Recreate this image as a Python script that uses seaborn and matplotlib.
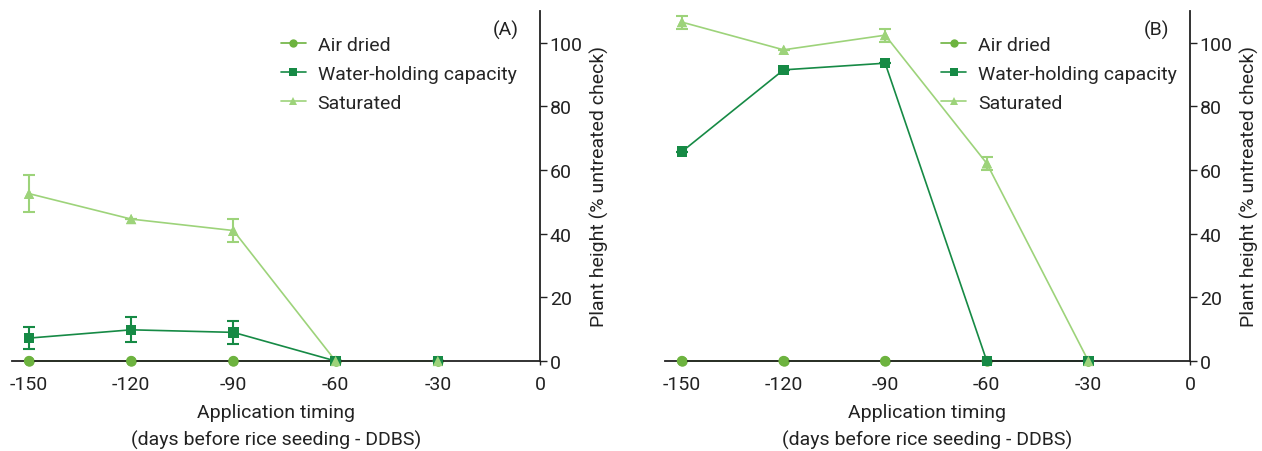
import numpy as np
import pandas as pd
import seaborn as sns
import matplotlib.pyplot as plt

sns.set_style("ticks")
plt.rcParams['font.family'] = ['Roboto', 'DejaVu Sans']

timing = [-150, -120, -90, -60, -30]
series = ["Air dried", "Water-holding capacity", "Saturated"]

# panel A
a_air = [0, 0, 0, 0, 0]
a_whc = [7.2, 9.8, 9.0, 0, 0]
a_whc_err = [3.5, 3.9, 3.7, 0, 0]
a_sat = [52.6, 44.6, 41.0, 0, 0]
a_sat_err = [5.9, 0, 3.6, 0, 0]

# panel B
b_air = [0, 0, 0, 0, 0]
b_whc = [65.8, 91.5, 93.6, 0, 0]
b_whc_err = [0, 0, 0, 0, 0]
b_sat = [106.5, 97.8, 102.4, 62.1, 0]
b_sat_err = [2.0, 0, 2.0, 2.0, 0]

colors = {"Air dried": "#6db33f", "Water-holding capacity": "#168a45", "Saturated": "#9dd37a"}
markers = {"Air dried": "o", "Water-holding capacity": "s", "Saturated": "^"}
ink = "#222222"

fig = plt.figure(figsize=(12.62, 4.52), dpi=100)
ax_a = fig.add_axes([12/1262, 1-362/452, (540-12)/1262, 350/452])
ax_b = fig.add_axes([665/1262, 1-362/452, (1190-665)/1262, 350/452])


def draw(ax, air, whc, whc_err, sat, sat_err, tag, leg_x):
    df = pd.DataFrame({
        "timing": timing * 3,
        "value": air + whc + sat,
        "series": [s for s in series for _ in timing],
    })
    errs = {"Water-holding capacity": whc_err, "Saturated": sat_err}
    vals = {"Water-holding capacity": whc, "Saturated": sat}
    for s in ["Saturated", "Water-holding capacity"]:
        ax.errorbar(timing, vals[s], yerr=errs[s], fmt="none", ecolor=colors[s],
                    elinewidth=1.5, capsize=4.5, capthick=1.5, zorder=1.5)
    sns.lineplot(data=df, x="timing", y="value", hue="series", style="series",
                 hue_order=series, style_order=series, palette=colors,
                 markers=markers, dashes=False, markersize=7.5, markeredgewidth=0,
                 linewidth=1.2, ax=ax, clip_on=False)
    # lines go under the black baseline, markers on top of it
    for ln in ax.lines:
        ln.set_zorder(2)
    sns.scatterplot(data=df, x="timing", y="value", hue="series", style="series",
                    hue_order=series, style_order=series, palette=colors,
                    markers=markers, s=55, linewidth=0, ax=ax, zorder=4,
                    clip_on=False, legend=False)
    ax.set_xlim(-155, 0)
    ax.set_ylim(0, 110)
    ax.set_xticks([-150, -120, -90, -60, -30, 0])
    ax.set_xticklabels(["-150", "-120", "-90", "-60", "-30", "0"])
    ax.set_yticks([0, 20, 40, 60, 80, 100])
    ax.yaxis.tick_right()
    ax.yaxis.set_label_position("right")
    ax.spines["left"].set_visible(False)
    ax.spines["top"].set_visible(False)
    for side in ["right", "bottom"]:
        ax.spines[side].set_color(ink)
        ax.spines[side].set_linewidth(1.3)
        ax.spines[side].set_zorder(3)
    ax.set_axisbelow(False)
    ax.tick_params(axis="x", length=3, width=1, pad=7, labelsize=14, colors=ink)
    ax.tick_params(axis="y", length=5, width=1, pad=2, labelsize=14, colors=ink)
    ax.set_xlabel("Application timing\n(days before rice seeding - DDBS)", fontsize=14,
                  linespacing=1.65, labelpad=7, color=ink)
    ax.set_ylabel("Plant height (% untreated check)", fontsize=14, color=ink, labelpad=5)
    ax.text(0.96, 0.975, tag, transform=ax.transAxes, ha="right", va="top", fontsize=14,
            color=ink)
    leg = ax.legend(loc="upper right", bbox_to_anchor=(leg_x, 0.95), frameon=False,
                    fontsize=14, handlelength=1.3, labelspacing=0.55, handletextpad=0.6,
                    borderaxespad=0)
    for h in leg.legend_handles:
        h.set_markersize(6)


draw(ax_a, a_air, a_whc, a_whc_err, a_sat, a_sat_err, "(A)", 0.97)
draw(ax_b, b_air, b_whc, b_whc_err, b_sat, b_sat_err, "(B)", 0.99)

fig.savefig("out.png", dpi=100)
